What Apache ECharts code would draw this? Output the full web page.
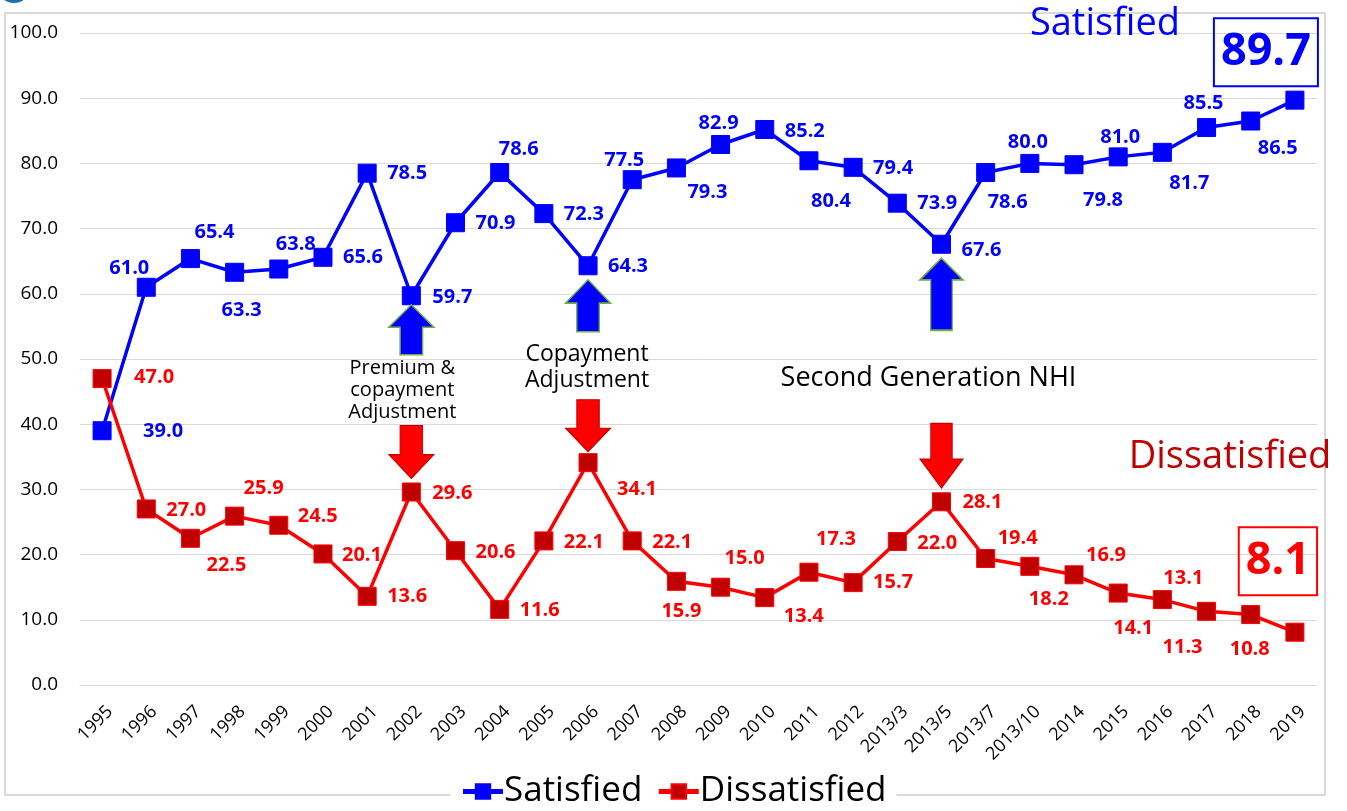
<!DOCTYPE html>
<html>
<head>
<meta charset="utf-8">
<script src="https://cdn.jsdelivr.net/npm/echarts@6/dist/echarts.min.js"></script>
<style>
  html, body { margin: 0; padding: 0; background: #fff; }
  #chart { width: 1347px; height: 811px; }
</style>
</head>
<body>
<div id="chart"></div>
<script>
// categories (survey years)
const years = ['1995', '1996', '1997', '1998', '1999', '2000', '2001', '2002', '2003', '2004',
  '2005', '2006', '2007', '2008', '2009', '2010', '2011', '2012', '2013/3', '2013/5',
  '2013/7', '2013/10', '2014', '2015', '2016', '2017', '2018', '2019'];

const satisfied = [39.0, 61.0, 65.4, 63.3, 63.8, 65.6, 78.5, 59.7, 70.9, 78.6,
  72.3, 64.3, 77.5, 79.3, 82.9, 85.2, 80.4, 79.4, 73.9, 67.6,
  78.6, 80.0, 79.8, 81.0, 81.7, 85.5, 86.5, 89.7];

const dissatisfied = [47.0, 27.0, 22.5, 25.9, 24.5, 20.1, 13.6, 29.6, 20.6, 11.6,
  22.1, 34.1, 22.1, 15.9, 15.0, 13.4, 17.3, 15.7, 22.0, 28.1,
  19.4, 18.2, 16.9, 14.1, 13.1, 11.3, 10.8, 8.1];

const yTicks = [0, 10, 20, 30, 40, 50, 60, 70, 80, 90, 100];

// policy events marked with arrows
const events = [
  { year: '2002', text: 'Premium &\ncopayment\nAdjustment' },
  { year: '2006', text: 'Copayment\nAdjustment' },
  { year: '2013/5', text: 'Second Generation NHI' }
];

// label placement (px from the marker centre), layout only
const satLabelOffset = [[61, 1], [-17, -19], [24, -26], [7, 38], [17, -25], [40, 0], [40, 0], [41, 2], [40, 1], [19, -23],
  [40, 1], [40, 1], [-8, -19], [31, 24], [-2, -21], [40, 2], [22, 41], [40, 1], [40, 0], [40, 6],
  [22, 30], [-2, -21], [29, 36], [2, -20], [27, 31], [-3, -24], [27, 27], [-29, -48]];
const disLabelOffset = [[52, -1], [40, 1], [36, 27], [29, -28], [39, -9], [39, 1], [40, 0], [41, 1], [40, 2], [40, 1],
  [40, 1], [49, 27], [40, 1], [5, 30], [24, -29], [39, 19], [27, -33], [40, 0], [40, 2], [41, 1],
  [32, -20], [19, 33], [32, -20], [15, 35], [21, -21], [-24, 36], [-1, 35], [-17, -71]];

const FONT = '"Open Sans", "Noto Sans", sans-serif';
const BLUE = '#0000FF';
const RED = '#FF0000';
const DARKRED = '#C00000';

const upArrow = 'path://M50,0 L100,45 L75,45 L75,100 L25,100 L25,45 L0,45 Z';
const upArrowLong = 'path://M50,0 L100,30 L75,30 L75,100 L25,100 L25,30 L0,30 Z';
const downArrow = 'path://M25,0 L75,0 L75,55 L100,55 L50,100 L0,55 L25,55 Z';

function buildData(values, offsets, boxColor) {
  return values.map(function (v, i) {
    const item = { value: v, label: { offset: offsets[i] } };
    if (i === values.length - 1) {
      // latest value is shown big, in a box
      item.label = {
        offset: offsets[i],
        fontSize: 45,
        fontWeight: 'bold',
        color: boxColor,
        borderColor: boxColor,
        borderWidth: 2,
        padding: [8, 7, 6, 7],
        lineHeight: 54
      };
    }
    return item;
  });
}

// arrow settings
const blueArrowCfg = [
  { size: [45, 50], off: 34, symbol: upArrow },
  { size: [45, 52], off: 40, symbol: upArrow },
  { size: [43, 72], off: 50, symbol: upArrowLong }
];
const blueTextCfg = [
  { distance: 2, offset: [-9, 0], fontSize: 20, lineHeight: 22 },
  { distance: 9, offset: [-1, 0], fontSize: 23, lineHeight: 26 },
  { distance: 33, offset: [-13, 0], fontSize: 27, lineHeight: 28 }
];
const redArrowCfg = [
  { size: [45, 53], off: -40 },
  { size: [45, 52], off: -37 },
  { size: [43, 65], off: -46 }
];

const satMarks = events.map(function (e, k) {
  const idx = years.indexOf(e.year);
  return {
    coord: [idx, satisfied[idx]],
    symbol: blueArrowCfg[k].symbol,
    symbolSize: blueArrowCfg[k].size,
    symbolOffset: [0, blueArrowCfg[k].off],
    itemStyle: { color: BLUE, borderColor: '#70AD47', borderWidth: 1.5 },
    label: {
      show: true,
      position: 'bottom',
      distance: blueTextCfg[k].distance,
      offset: blueTextCfg[k].offset,
      formatter: e.text,
      color: '#000',
      fontFamily: FONT,
      fontSize: blueTextCfg[k].fontSize,
      lineHeight: blueTextCfg[k].lineHeight,
      align: 'center'
    }
  };
});

const disMarks = events.map(function (e, k) {
  const idx = years.indexOf(e.year);
  return {
    coord: [idx, dissatisfied[idx]],
    symbol: downArrow,
    symbolSize: redArrowCfg[k].size,
    symbolOffset: [0, redArrowCfg[k].off],
    itemStyle: { color: RED, borderColor: DARKRED, borderWidth: 1 },
    label: { show: false }
  };
});

const chart = echarts.init(document.getElementById('chart'));

const option = {
  animation: false,
  backgroundColor: '#fff',
  textStyle: { fontFamily: FONT },
  grid: { left: 80, right: 30, top: 33, bottom: 126, containLabel: false },
  legend: {
    data: ['Satisfied', 'Dissatisfied'],
    left: 'center',
    top: 774,
    itemWidth: 40,
    itemHeight: 18,
    itemGap: 14,
    padding: [0, 10],
    backgroundColor: '#fff',
    lineStyle: { width: 5 },
    textStyle: { fontSize: 35, color: '#000', fontFamily: FONT, padding: [0, 0, 0, -4] }
  },
  xAxis: {
    type: 'category',
    data: years,
    boundaryGap: true,
    axisTick: { show: false },
    axisLine: { lineStyle: { color: '#D9D9D9' } },
    axisLabel: {
      interval: 0, rotate: 45, margin: 16, fontSize: 18, color: '#000', fontFamily: FONT,
      verticalAlign: 'top', lineHeight: 22
    }
  },
  yAxis: {
    type: 'value',
    min: yTicks[0],
    max: yTicks[yTicks.length - 1],
    interval: 10,
    axisLine: { show: false },
    axisTick: { show: false },
    splitLine: { lineStyle: { color: '#D9D9D9', width: 1 } },
    axisLabel: {
      margin: 22,
      fontSize: 19,
      color: '#000',
      fontFamily: FONT,
      formatter: function (v) { return v.toFixed(1); }
    }
  },
  series: [
    {
      name: 'Satisfied',
      type: 'line',
      data: buildData(satisfied, satLabelOffset, BLUE),
      symbol: 'rect',
      symbolSize: 18,
      lineStyle: { color: BLUE, width: 3.5 },
      itemStyle: { color: BLUE, borderColor: BLUE, borderWidth: 1 },
      label: {
        show: true,
        position: 'inside',
        color: BLUE,
        fontSize: 20,
        fontWeight: 'bold',
        fontFamily: FONT,
        formatter: function (p) { return p.value.toFixed(1); }
      },
      markPoint: { symbolKeepAspect: false, data: satMarks },
      z: 3
    },
    {
      name: 'Dissatisfied',
      type: 'line',
      data: buildData(dissatisfied, disLabelOffset, RED),
      symbol: 'rect',
      symbolSize: 18,
      lineStyle: { color: RED, width: 3.5 },
      itemStyle: { color: DARKRED, borderColor: RED, borderWidth: 1 },
      label: {
        show: true,
        position: 'inside',
        color: RED,
        fontSize: 20,
        fontWeight: 'bold',
        fontFamily: FONT,
        formatter: function (p) { return p.value.toFixed(1); }
      },
      markPoint: { symbolKeepAspect: false, data: disMarks },
      z: 3
    }
  ],
  graphic: [
    {
      type: 'rect',
      z: -1,
      shape: { x: 5, y: 13, width: 1320, height: 782 },
      style: { fill: 'none', stroke: '#D9D9D9', lineWidth: 2 }
    },
    {
      type: 'circle',
      z: 10,
      shape: { cx: 14, cy: -14, r: 17 },
      style: { fill: '#1F6FB5' }
    },
    {
      type: 'text',
      z: 10,
      x: 1105,
      y: 24,
      style: {
        text: 'Satisfied', fill: BLUE, fontSize: 38, fontFamily: FONT,
        align: 'center', verticalAlign: 'middle'
      }
    },
    {
      type: 'text',
      z: 10,
      x: 1230,
      y: 457,
      style: {
        text: 'Dissatisfied', fill: DARKRED, fontSize: 38, fontFamily: FONT,
        align: 'center', verticalAlign: 'middle'
      }
    }
  ]
};

chart.setOption(option);
</script>
</body>
</html>
